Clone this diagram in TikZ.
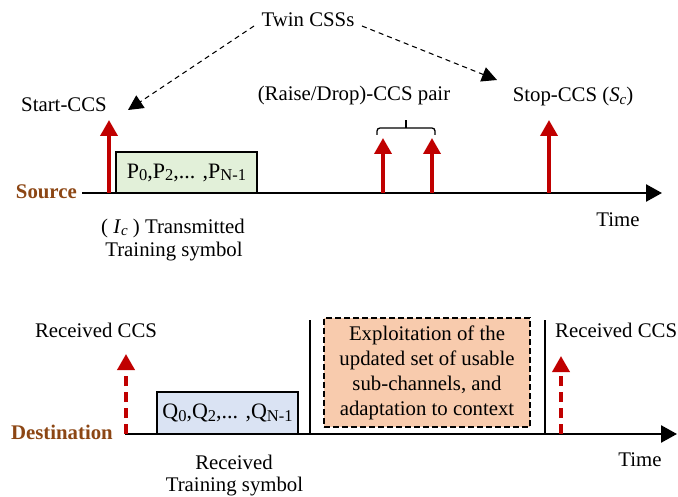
\documentclass[tikz,border=0pt]{standalone}
\usepackage{fontspec}
\setmainfont{Liberation Serif}
\usetikzlibrary{arrows.meta}
\definecolor{ccsred}{RGB}{192,0,0}
\definecolor{lblbrown}{RGB}{140,70,20}
\definecolor{boxgreen}{RGB}{226,240,217}
\definecolor{boxblue}{RGB}{218,227,243}
\definecolor{boxorange}{RGB}{248,203,173}
\newcommand\mysub[1]{\raisebox{-0.12em}{\fontsize{15}{15}\selectfont #1}}
\newcommand\boxsub[1]{\raisebox{-0.12em}{\fontsize{16.5}{16.5}\selectfont #1}}
\tikzset{
  txt/.style={inner sep=0pt, font=\fontsize{20.8}{25}\selectfont},
  sidelabel/.style={txt, anchor=east, text=lblbrown, font=\fontsize{20.8}{25}\selectfont\bfseries},
  timeaxis/.style={line width=2.6pt, -{Triangle[length=16pt,width=17pt]}},
  ccsarrow/.style={draw=ccsred, line width=3.6pt, -{Triangle[length=16pt,width=17pt,fill=ccsred]}},
  rxarrow/.style={ccsarrow, dash pattern=on 10pt off 6pt},
  symbox/.style={draw=black, line width=2pt, inner sep=0pt, minimum width=141pt, txt, font=\fontsize{22}{25}\selectfont},
  twinarrow/.style={line width=1.1pt, dash pattern=on 5pt off 4pt, -{Triangle[length=15pt,width=15pt]}},
  divider/.style={line width=2pt}
}
\begin{document}
\begin{tikzpicture}[x=1pt,y=-1pt]
\useasboundingbox (0,0) rectangle (678,497);
% ---------- Source ----------
\coordinate (s0) at (82,193);
\coordinate (s1) at (662,193);
\draw[timeaxis] (s0) -- (s1);
\node[sidelabel] (src) at (77,192) {Source};
\node[symbox, fill=boxgreen, minimum height=41pt] (pbox) at (186.5,172.5)
  {P\boxsub{0},P\boxsub{2},... ,P\boxsub{N-1}};
\coordinate (a1b) at (109,193); \coordinate (a1t) at (109,120);
\coordinate (a2b) at (383,193); \coordinate (a2t) at (383,138);
\coordinate (a3b) at (432,193); \coordinate (a3t) at (432,138);
\coordinate (a4b) at (549,193); \coordinate (a4t) at (549,120);
\draw[ccsarrow] (a1b) -- (a1t);
\draw[ccsarrow] (a2b) -- (a2t);
\draw[ccsarrow] (a3b) -- (a3t);
\draw[ccsarrow] (a4b) -- (a4t);
\node[txt] (start) at (64,105) {Start-CCS};
\node[txt] (twin) at (308,20) {Twin CSSs};
\node[txt] (pair) at (354,96) {(Raise/Drop)-CCS pair};
\node[txt] (stop) at (573,97) {Stop-CCS (\textit{S}\mysub{\textit{c}})};
\node[txt] (time1) at (618,220) {Time};
\node[txt] (ic) at (173,228) {( \textit{I}\mysub{\textit{c}} ) Transmitted};
\node[txt] (tr1) at (174,252) {Training symbol};
% twin arrows
\coordinate (tl0) at (254,26); \coordinate (tl1) at (128,110);
\coordinate (tr0) at (362,26); \coordinate (tr1e) at (497,80);
\draw[twinarrow] (tl0) -- (tl1);
\draw[twinarrow] (tr0) -- (tr1e);
% brace
\coordinate (bl) at (377,135); \coordinate (br) at (435,135); \coordinate (bt) at (406,120);
\draw[line width=1.3pt, rounded corners=3pt] (bl) -- (377,128) -- (435,128) -- (br);
\draw[line width=1.6pt] (406,128) -- (bt);
% ---------- Destination ----------
\coordinate (d0) at (125,434);
\coordinate (d1) at (677,434);
\draw[timeaxis] (d0) -- (d1);
\node[sidelabel] (dst) at (113,432) {Destination};
\node[symbox, fill=boxblue, minimum height=42pt] (qbox) at (227.5,413)
  {Q\boxsub{0},Q\boxsub{2},... ,Q\boxsub{N-1}};
\coordinate (r1b) at (126,434); \coordinate (r1t) at (126,354);
\coordinate (r2b) at (561,434); \coordinate (r2t) at (561,356);
\draw[rxarrow] (r1b) -- (r1t);
\draw[rxarrow] (r2b) -- (r2t);
\coordinate (v1b) at (310,434); \coordinate (v1t) at (310,320);
\coordinate (v2b) at (545,434); \coordinate (v2t) at (545,320);
\draw[divider] (v1b) -- (v1t);
\draw[divider] (v2b) -- (v2t);
\node[draw=black, fill=boxorange, line width=2.2pt, dash pattern=on 6pt off 3pt,
      minimum width=206pt, minimum height=109pt, inner sep=0pt, align=center,
      font=\fontsize{20.8}{25}\selectfont] (exp) at (427,372.5)
  {Exploitation of the\\updated set of usable\\sub-channels, and\\adaptation to context};
\node[txt] (rx1) at (96,330) {Received CCS};
\node[txt, anchor=west] (rx2) at (555,330) {Received CCS};
\node[txt] (time2) at (640,460) {Time};
\node[txt] (rec) at (234,462) {Received};
\node[txt] (tr2) at (234.5,487) {Training symbol};
\end{tikzpicture}
\end{document}
